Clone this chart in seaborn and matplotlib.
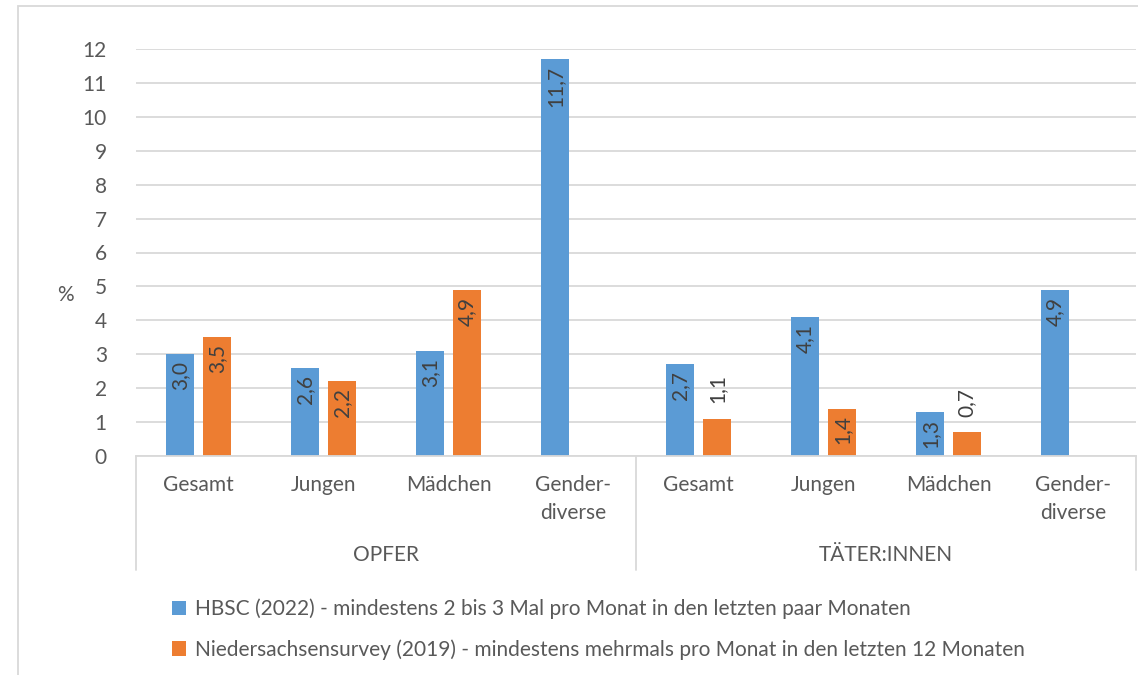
import numpy as np
import pandas as pd
import matplotlib
matplotlib.use("Agg")
import matplotlib.pyplot as plt
from matplotlib.patches import Patch, Rectangle
import seaborn as sns

# data
groups = ["OPFER", "TÄTER:INNEN"]
categories = ["Gesamt", "Jungen", "Mädchen", "Gender-\ndiverse"]
series = [
    "HBSC (2022) - mindestens 2 bis 3 Mal pro Monat in den letzten paar Monaten",
    "Niedersachsensurvey (2019) - mindestens mehrmals pro Monat in den letzten 12 Monaten",
]
hbsc = [3.0, 2.6, 3.1, 11.7, 2.7, 4.1, 1.3, 4.9]
nds = [3.5, 2.2, 4.9, np.nan, 1.1, 1.4, 0.7, np.nan]
colors = ["#5B9BD5", "#ED7D31"]

slots = [f"{g}|{c}" for g in groups for c in categories]
rows = []
for s, h, n in zip(slots, hbsc, nds):
    rows.append({"slot": s, "serie": series[0], "wert": h})
    rows.append({"slot": s, "serie": series[1], "wert": n})
df = pd.DataFrame(rows)

sns.set_theme(style="white")
plt.rcParams["font.family"] = ["Lato", "DejaVu Sans"]
txt = "#595959"
fs = 15

fig = plt.figure(figsize=(11.38, 6.75), dpi=100)
ax = fig.add_axes([136 / 1138, 219 / 675, 1000 / 1138, 407 / 675])

sns.barplot(data=df, x="slot", y="wert", hue="serie", order=slots,
            hue_order=series, palette=colors, width=0.59, gap=0.24,
            saturation=1, legend=False, ax=ax, edgecolor="none")

ax.set_ylim(0, 12)
ax.set_xlim(-0.5, len(slots) - 0.5)
ax.set_yticks(range(0, 13))
ax.yaxis.grid(True, color="#d9d9d9", linewidth=1.3)
ax.set_axisbelow(True)
for sp in ["top", "right", "left"]:
    ax.spines[sp].set_visible(False)
ax.spines["bottom"].set_color("#d9d9d9")
ax.spines["bottom"].set_linewidth(1.3)
ax.tick_params(axis="y", length=0, pad=21, labelsize=fs, labelcolor=txt)
ax.tick_params(axis="x", length=0, pad=14, labelsize=fs, labelcolor=txt)
ax.set_xticks(range(len(slots)))
ax.set_xticklabels(categories * len(groups), linespacing=1.45, va="top")
ax.set_xlabel("")
ax.set_ylabel("")
ax.text(-71 / 1000, (456 - 295) / 407, "%", transform=ax.transAxes,
        ha="center", va="center", fontsize=fs, color=txt)

# value labels, rotated, inside the bar end or above if too short
for p in ax.patches:
    h = p.get_height()
    if not np.isfinite(h) or h <= 0:
        continue
    x = p.get_x() + p.get_width() / 2
    lab = f"{h:.1f}".replace(".", ",")
    if h >= 1.2:
        ax.annotate(lab, (x, h), xytext=(0, -5), textcoords="offset points",
                    rotation=90, ha="center", va="top", fontsize=fs, color="#404040")
    else:
        ax.annotate(lab, (x, h), xytext=(0, 11), textcoords="offset points",
                    rotation=90, ha="center", va="bottom", fontsize=fs, color="#404040")

# group axis: separators and group names
n = len(categories)
for i in range(len(groups) + 1):
    ax.plot([i * n - 0.5] * 2, [0, -114 / 407], transform=ax.get_xaxis_transform(),
            color="#d9d9d9", linewidth=1.3, clip_on=False)
for i, g in enumerate(groups):
    ax.text(i * n + (n - 1) / 2, -99 / 407, g, transform=ax.get_xaxis_transform(),
            ha="center", va="center", fontsize=fs, color=txt)

# legend below
handles = [Patch(facecolor=c, edgecolor="none") for c in colors]
fig.legend(handles, series, loc="upper left", bbox_to_anchor=(153 / 1138, 1 - 580 / 675),
           frameon=False, fontsize=fs, labelcolor=txt, handlelength=0.7,
           handleheight=0.7, handletextpad=0.4, labelspacing=0.95)

# chart frame (cut off at right and bottom)
fig.patches.append(Rectangle((18 / 1138, -0.05), 1.2, 0.05 + 669 / 675,
                             transform=fig.transFigure, fill=False,
                             edgecolor="#d9d9d9", linewidth=1.3))

fig.savefig("out.png", dpi=100)
